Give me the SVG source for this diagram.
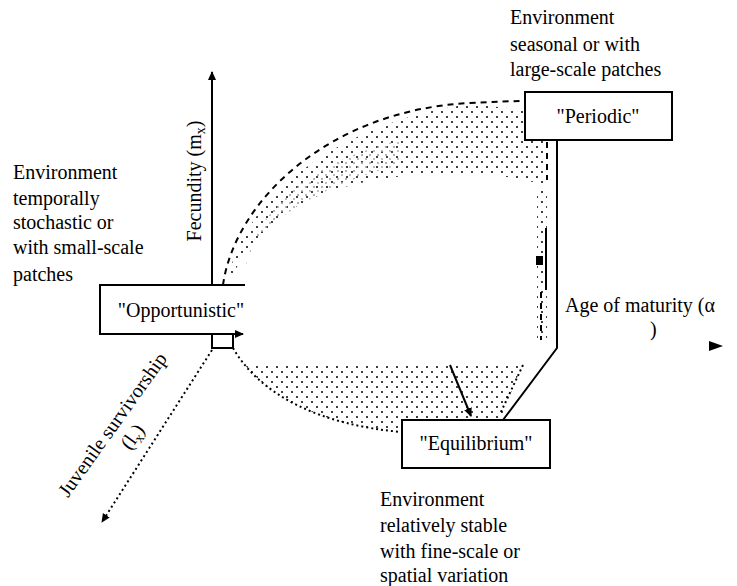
<svg xmlns="http://www.w3.org/2000/svg" width="737" height="586" viewBox="0 0 737 586">
<style>
text{font-family:"Liberation Serif","Times New Roman",serif;font-size:20px;fill:#000}
.ln{fill:none;stroke:#000;stroke-width:2}
.dash{fill:none;stroke:#000;stroke-width:2;stroke-dasharray:6 5}
.dot{fill:none;stroke:#000;stroke-width:2;stroke-dasharray:2 3}
.box{fill:#fff;stroke:#000;stroke-width:2}
</style>
<defs>
<pattern id="dots" width="10" height="10" patternUnits="userSpaceOnUse">
<circle cx="2" cy="2" r="1"/><circle cx="7" cy="7" r="1"/>
</pattern>
<pattern id="grey" width="8" height="8" patternUnits="userSpaceOnUse">
<circle cx="2" cy="3" r="1" fill="#999"/><circle cx="6" cy="7" r="1" fill="#aaa"/>
</pattern>
<marker id="ah" markerWidth="10" markerHeight="10" refX="8" refY="5" orient="auto" markerUnits="userSpaceOnUse">
<path d="M0,1 L9,5 L0,9 Z" fill="#000"/>
</marker>
</defs>
<rect width="737" height="586" fill="#fff"/>

<g id="stipple">
<path d="M228,283 C235,215 320,125 470,104 L525,110 L547,145 L543,185 C480,165 380,172 320,195 C270,215 245,250 228,283 Z" fill="url(#dots)"/>
<path d="M245,270 C255,215 300,165 400,140 L400,165 C340,180 290,205 255,240 Z" fill="url(#grey)"/>
<path d="M233,348 C260,395 320,425 402,432 L402,420 L500,420 L523,363 L245,363 Z" fill="url(#dots)"/>
<path d="M537,190 L547,190 L547,340 L537,340 Z" fill="url(#dots)"/>
</g>

<g id="connectors">
<path class="dash" d="M223,285 C235,200 330,110 470,103 S520,108 525,112"/>
<path class="dot" d="M233,348 C260,395 320,425 402,432"/>
<path class="dot" d="M523,365 L500,414"/>
<path class="ln" d="M557,140 V348 L503,420"/>
<path class="dash" d="M547,142 V180"/>
<path class="ln" d="M546,228 V290"/>
<rect x="536" y="256" width="7" height="9" fill="#000"/>
<path class="dash" d="M541,292 V340"/>
<path class="ln" d="M450,365 L471,416" marker-end="url(#ah)" stroke-width="2.5"/>
</g>

<g id="axes">
<path class="ln" d="M212,285 V72" marker-end="url(#ah)"/>
<path class="dot" d="M212,350 L102,522" marker-end="url(#ah)"/>
<rect x="212" y="334" width="21" height="14" fill="none" stroke="#000" stroke-width="2"/>
<path d="M709,341 L723,346 L709,351 Z" fill="#000"/>
</g>

<g id="node-opportunistic">
<rect x="100" y="285" width="145" height="49" fill="#fff"/>
<path class="ln" d="M245,285 H100 V334 H243" marker-end="url(#ah)"/>
<text x="181" y="317" text-anchor="middle">"Opportunistic"</text>
</g>

<g id="node-periodic">
<rect class="box" x="525" y="92" width="147" height="48"/>
<text x="598" y="123" text-anchor="middle">"Periodic"</text>
</g>

<g id="node-equilibrium">
<rect class="box" x="402" y="420" width="148" height="48"/>
<text x="476" y="450" text-anchor="middle">"Equilibrium"</text>
</g>

<g id="labels">
<text x="13" y="179">Environment</text>
<text x="13" y="205">temporally</text>
<text x="13" y="229">stochastic or</text>
<text x="13" y="254">with small-scale</text>
<text x="13" y="281">patches</text>

<text x="510" y="24">Environment</text>
<text x="510" y="51">seasonal or with</text>
<text x="510" y="76">large-scale patches</text>

<text x="380" y="506">Environment</text>
<text x="380" y="532">relatively stable</text>
<text x="380" y="558">with fine-scale or</text>
<text x="380" y="582">spatial variation</text>

<text x="565" y="312">Age of maturity (α</text>
<text x="650" y="336">)</text>

<text transform="translate(201,181) rotate(-90)" text-anchor="middle">Fecundity (m<tspan font-size="14" dy="4">x</tspan><tspan dy="-4">)</tspan></text>

<text transform="translate(113,425) rotate(-54.5)" text-anchor="middle" y="6">Juvenile survivorship</text>
<text transform="translate(133,437) rotate(-54.5)" text-anchor="middle" y="6">(l<tspan font-size="14" dy="4">x</tspan><tspan dy="-4">)</tspan></text>
</g>
</svg>
